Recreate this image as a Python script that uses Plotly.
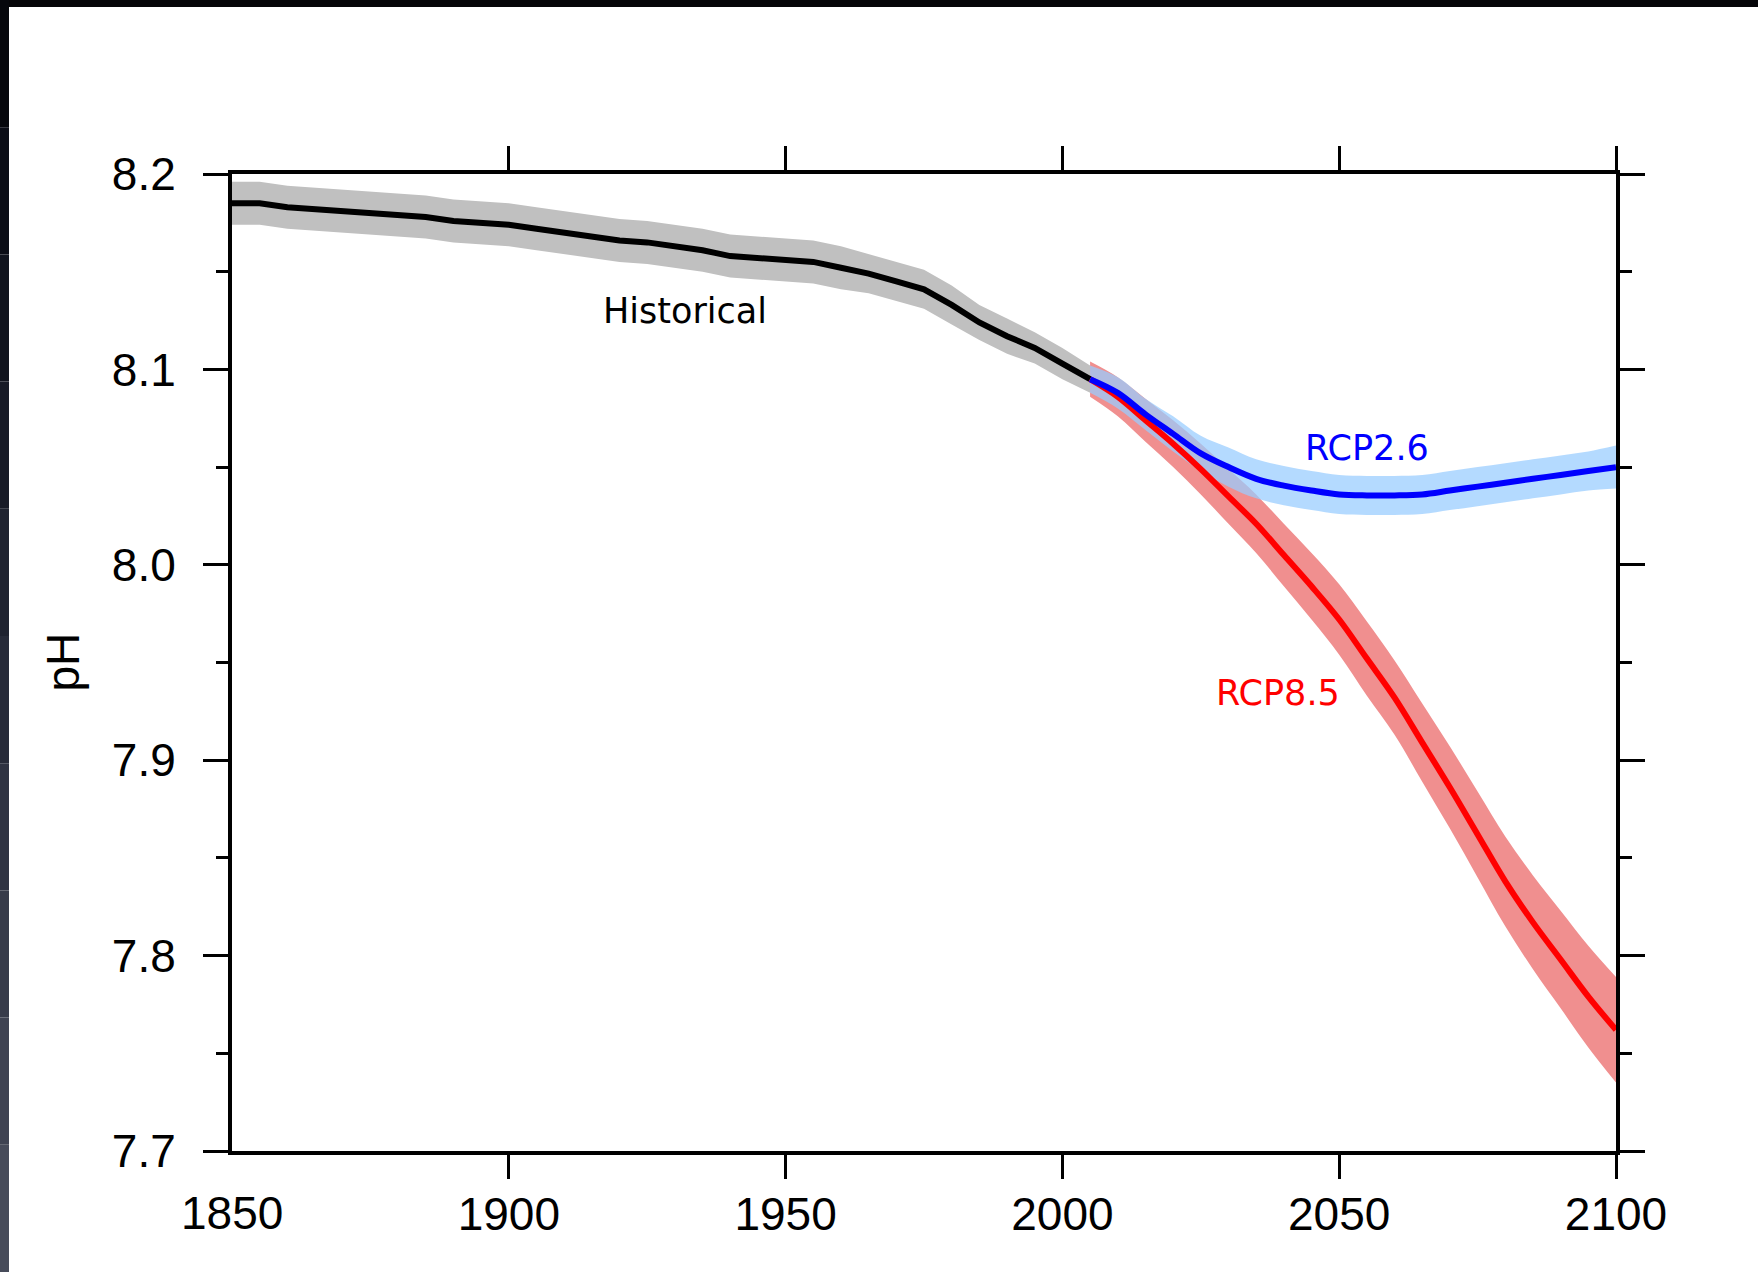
import plotly.graph_objects as go

# ---------------- data ----------------
hist_years = [1850, 1855, 1860, 1865, 1870, 1875, 1880, 1885, 1890, 1895,
              1900, 1905, 1910, 1915, 1920, 1925, 1930, 1935, 1940, 1945,
              1950, 1955, 1960, 1965, 1970, 1975, 1980, 1985, 1990, 1995,
              2000, 2005]
hist_mean = [8.185, 8.185, 8.183, 8.182, 8.181, 8.180, 8.179, 8.178, 8.176, 8.175,
             8.174, 8.172, 8.170, 8.168, 8.166, 8.165, 8.163, 8.161, 8.158, 8.157,
             8.156, 8.155, 8.152, 8.149, 8.145, 8.141, 8.133, 8.124, 8.117, 8.111,
             8.103, 8.095]
hist_spread = [0.011, 0.011, 0.011, 0.011, 0.011, 0.011, 0.011, 0.011, 0.011, 0.011,
               0.011, 0.011, 0.011, 0.011, 0.011, 0.011, 0.011, 0.011, 0.011, 0.011,
               0.011, 0.011, 0.011, 0.010, 0.010, 0.010, 0.010, 0.009, 0.009, 0.008,
               0.008, 0.007]

rcp_years = [2005, 2010, 2015, 2020, 2025, 2030, 2035, 2040, 2045, 2050,
             2055, 2060, 2065, 2070, 2075, 2080, 2085, 2090, 2095, 2100]
rcp26_mean = [8.095, 8.088, 8.077, 8.067, 8.057, 8.050, 8.044, 8.0405, 8.038, 8.036,
              8.0355, 8.0355, 8.036, 8.038, 8.040, 8.042, 8.044, 8.046, 8.048, 8.050]
rcp26_spread = [0.007, 0.008, 0.008, 0.009, 0.009, 0.010, 0.010, 0.010, 0.010, 0.010,
                0.010, 0.010, 0.010, 0.010, 0.010, 0.010, 0.010, 0.010, 0.010, 0.011]
rcp85_mean = [8.095, 8.086, 8.074, 8.062, 8.049, 8.035, 8.021, 8.005, 7.989, 7.972,
              7.952, 7.932, 7.909, 7.886, 7.862, 7.838, 7.817, 7.798, 7.779, 7.762]
rcp85_spread = [0.009, 0.010, 0.011, 0.012, 0.013, 0.014, 0.015, 0.016, 0.017, 0.018,
                0.019, 0.019, 0.020, 0.021, 0.022, 0.023, 0.024, 0.025, 0.026, 0.027]

x_tick_vals = [1900, 1950, 2000, 2050, 2100]
y_tick_vals = [7.7, 7.8, 7.9, 8.0, 8.1, 8.2]
y_tick_text = ["7.7", "7.8", "7.9", "8.0", "8.1", "8.2"]

# ---------------- figure ----------------
W, H = 1758, 1272
L, R, T, B = 232, 142, 174, 121
PW, PH = W - L - R, H - T - B

def band(years, mean, spread, color, shape):
    hi = [m + s for m, s in zip(mean, spread)]
    lo = [m - s for m, s in zip(mean, spread)]
    lo_tr = go.Scatter(x=years, y=lo, mode="lines", line=dict(width=0, shape=shape),
                       hoverinfo="skip", showlegend=False)
    hi_tr = go.Scatter(x=years, y=hi, mode="lines", line=dict(width=0, shape=shape),
                       fill="tonexty", fillcolor=color,
                       hoverinfo="skip", showlegend=False)
    return [lo_tr, hi_tr]

fig = go.Figure()
for tr in band(hist_years, hist_mean, hist_spread, "#c0c0c0", "linear"):
    fig.add_trace(tr)
for tr in band(rcp_years, rcp85_mean, rcp85_spread, "#f08f8f", "spline"):
    fig.add_trace(tr)
for tr in band(rcp_years, rcp26_mean, rcp26_spread, "rgba(152,204,255,0.73)", "spline"):
    fig.add_trace(tr)
fig.add_trace(go.Scatter(x=hist_years, y=hist_mean, mode="lines",
                         line=dict(color="black", width=6), showlegend=False))
fig.add_trace(go.Scatter(x=rcp_years, y=rcp85_mean, mode="lines",
                         line=dict(color="#ff0000", width=6, shape="spline"),
                         showlegend=False))
fig.add_trace(go.Scatter(x=rcp_years, y=rcp26_mean, mode="lines",
                         line=dict(color="#0000ff", width=6, shape="spline"),
                         showlegend=False))

tick_font = dict(family="Liberation Sans, Arial, sans-serif", size=46, color="black")
label_font = dict(family="DejaVu Sans, sans-serif", size=35)

fig.update_xaxes(range=[1850, 2100], tickvals=x_tick_vals,
                 ticks="outside", ticklen=24, tickwidth=3, tickcolor="black",
                 showline=True, linewidth=4, linecolor="black", mirror="allticks",
                 showgrid=False, zeroline=False, tickfont=tick_font,
                 ticklabelstandoff=-4)
fig.update_yaxes(range=[7.7, 8.2], tickvals=y_tick_vals, ticktext=y_tick_text,
                 ticks="outside", ticklen=25, tickwidth=3, tickcolor="black",
                 minor=dict(dtick=0.05, tick0=7.7, ticks="outside", ticklen=12,
                            tickwidth=3, tickcolor="black", showgrid=False),
                 showline=True, linewidth=4, linecolor="black", mirror="allticks",
                 showgrid=False, zeroline=False, tickfont=tick_font,
                 ticklabelstandoff=18)

def px_x(px):
    return (px - L) / PW

def px_y(py):
    return 1 - (py - T) / PH

shapes = [
    # dark frame edges of the original screenshot
    dict(type="rect", xref="paper", yref="paper", x0=px_x(0), x1=px_x(W),
         y0=px_y(7), y1=px_y(0), fillcolor="#050508", line=dict(width=0), layer="above"),
]
left_cols = ["#06070c", "#0b0d16", "#11141e", "#181b27", "#1f2330", "#272b39",
             "#2f3342", "#373b4a", "#3f4352", "#474b5a"]
n = len(left_cols)
for i, c in enumerate(left_cols):
    shapes.append(dict(type="rect", xref="paper", yref="paper", x0=px_x(0), x1=px_x(9),
                       y0=px_y(H * (i + 1) / n), y1=px_y(H * i / n),
                       fillcolor=c, line=dict(width=0), layer="above"))

annotations = [
    dict(x=1931.8, y=8.1299, xref="x", yref="y", text="Historical", showarrow=False,
         font=dict(label_font, color="black")),
    dict(x=2055.0, y=8.0598, xref="x", yref="y", text="RCP2.6", showarrow=False,
         font=dict(label_font, color="#0000ff")),
    dict(x=2038.9, y=7.9344, xref="x", yref="y", text="RCP8.5", showarrow=False,
         font=dict(label_font, color="#ff0000")),
    dict(x=px_x(62), y=0.5, xref="paper", yref="paper", text="pH", showarrow=False,
         xanchor="center", yanchor="middle", textangle=-90, font=tick_font),
    dict(x=1850, y=0, xref="x", yref="paper", text="1850", showarrow=False,
         xanchor="center", yanchor="top", yshift=-34, font=tick_font),
]

fig.update_layout(width=W, height=H, margin=dict(l=L, r=R, t=T, b=B),
                  paper_bgcolor="white", plot_bgcolor="white",
                  shapes=shapes, annotations=annotations, showlegend=False)

fig.write_html("out.html", config={"displayModeBar": False},
               post_script="document.body.style.margin='0px';")
